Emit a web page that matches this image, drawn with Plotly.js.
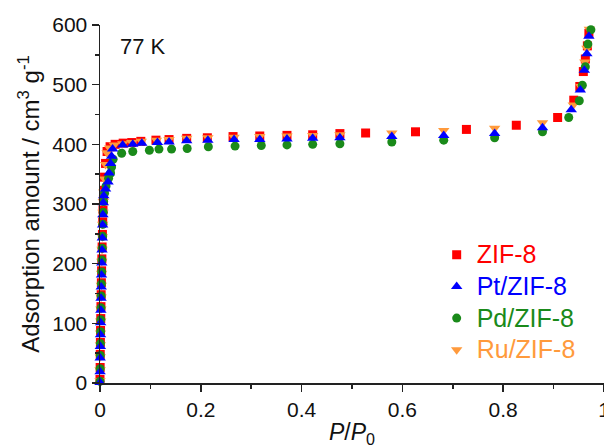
<!DOCTYPE html>
<html>
<head>
<meta charset="utf-8">
<script src="https://cdn.plot.ly/plotly-3.0.1.min.js"></script>
<style>html,body{margin:0;padding:0;background:#fff;}#chart{width:604px;height:448px;}</style>
</head>
<body>
<div id="chart"></div>
<script>
// ZIF-8 (red squares)
const zifX = [0, 0.0003, 0.0005, 0.0008, 0.0011, 0.0015, 0.0019, 0.0023, 0.0027, 0.0032, 0.0037, 0.0042, 0.0048, 0.0054, 0.006, 0.0068, 0.0076, 0.009, 0.011, 0.014, 0.02, 0.03, 0.046, 0.063, 0.081, 0.111, 0.137, 0.172, 0.213, 0.264, 0.317, 0.371, 0.422, 0.476, 0.527, 0.626, 0.727, 0.826, 0.908, 0.940, 0.952, 0.959, 0.963, 0.967, 0.970];
const zifY = [6, 26, 48, 68, 88, 108, 128, 148, 168, 188, 208, 228, 249, 270, 290, 307, 323, 345, 368, 388, 396, 400, 402, 403, 405, 407, 408, 410, 411, 413, 414, 415, 416, 418, 419, 421, 425, 432, 445, 474, 497, 522, 543, 565, 586];
// Pt/ZIF-8 (blue triangles)
const ptX = [0, 0.0002, 0.0004, 0.0007, 0.001, 0.0013, 0.0017, 0.0021, 0.0025, 0.003, 0.0035, 0.004, 0.0046, 0.0052, 0.0058, 0.0065, 0.0075, 0.011, 0.016, 0.018, 0.021, 0.023, 0.025, 0.045, 0.065, 0.083, 0.114, 0.137, 0.172, 0.214, 0.266, 0.317, 0.371, 0.422, 0.476, 0.579, 0.682, 0.783, 0.878, 0.935, 0.953, 0.961, 0.966, 0.970];
const ptY = [1, 19, 42, 61, 81, 101, 122, 142, 161, 181, 201, 223, 243, 265, 282, 302, 314, 325, 337, 352, 368, 380, 392, 399, 400, 402, 403, 404, 406, 407, 408, 408, 409, 410, 411, 413, 415, 418, 428, 458, 491, 524, 552, 581];
// Pd/ZIF-8 (green circles)
const pdX = [0, 0.0003, 0.0006, 0.0009, 0.0012, 0.0016, 0.002, 0.0024, 0.0029, 0.0034, 0.0039, 0.0045, 0.0051, 0.0057, 0.0064, 0.0072, 0.009, 0.012, 0.017, 0.021, 0.023, 0.026, 0.043, 0.065, 0.098, 0.117, 0.142, 0.173, 0.215, 0.268, 0.320, 0.371, 0.422, 0.476, 0.579, 0.682, 0.783, 0.878, 0.930, 0.951, 0.957, 0.963, 0.968, 0.974];
const pdY = [3, 24, 46, 66, 86, 106, 126, 146, 166, 186, 206, 226, 246, 266, 286, 304, 318, 330, 343, 352, 362, 375, 385, 388, 390, 392, 392, 393, 396, 397, 398, 399, 400, 401, 404, 407, 411, 421, 445, 473, 499, 530, 568, 592];
// Ru/ZIF-8 (orange down-triangles)
const ruX = [0, 0.0002, 0.0005, 0.0008, 0.0011, 0.0014, 0.0018, 0.0022, 0.0026, 0.0031, 0.0036, 0.0041, 0.0047, 0.0053, 0.0059, 0.0066, 0.0075, 0.009, 0.011, 0.014, 0.019, 0.028, 0.045, 0.063, 0.082, 0.112, 0.137, 0.172, 0.214, 0.266, 0.317, 0.371, 0.422, 0.476, 0.579, 0.682, 0.783, 0.878, 0.939, 0.954, 0.962, 0.966, 0.971];
const ruY = [4, 22, 44, 64, 84, 104, 124, 144, 164, 184, 204, 224, 245, 266, 286, 304, 320, 342, 366, 386, 394, 399, 401, 403, 405, 407, 408, 410, 411, 412, 413, 414, 415, 416, 419, 423, 427, 436, 466, 497, 538, 561, 593];

const seriesNames = ['ZIF-8', 'Pt/ZIF-8', 'Pd/ZIF-8', 'Ru/ZIF-8'];
const colors = {zif: '#ff0000', pt: '#0000ff', pd: '#1a8a1a', ru: '#ff9a3c'};
const xTickVals = [0, 0.2, 0.4, 0.6, 0.8, 1];
const xTickText = ['0', '0.2', '0.4', '0.6', '0.8', '1'];
const yTickVals = [0, 100, 200, 300, 400, 500, 600];

function lab(name, c) { return '<span style="color:' + c + ';font-size:25px">' + name + '</span>'; }

const traces = [
  {x: zifX, y: zifY, name: lab(seriesNames[0], colors.zif), legendrank: 1, type: 'scatter', mode: 'markers', cliponaxis: false,
   marker: {symbol: 'square', size: 9, color: colors.zif}},
  {x: ruX, y: ruY, name: lab(seriesNames[3], colors.ru), legendrank: 4, type: 'scatter', mode: 'markers', cliponaxis: false,
   marker: {symbol: 'triangle-down', size: 10, color: colors.ru}},
  {x: pdX, y: pdY, name: lab(seriesNames[2], colors.pd), legendrank: 3, type: 'scatter', mode: 'markers', cliponaxis: false,
   marker: {symbol: 'circle', size: 9, color: colors.pd}},
  {x: ptX, y: ptY, name: lab(seriesNames[1], colors.pt), legendrank: 2, type: 'scatter', mode: 'markers', cliponaxis: false,
   marker: {symbol: 'triangle-up', size: 10, color: colors.pt}}
];

const axisCol = '#222';
const layout = {
  width: 604, height: 448,
  margin: {l: 100, r: 0, t: 25, b: 65},
  paper_bgcolor: '#fff', plot_bgcolor: '#fff',
  font: {family: 'Liberation Sans, Arial, sans-serif', color: '#111', size: 21},
  showlegend: true,
  legend: {x: 0.668, y: 0.416, xanchor: 'left', yanchor: 'top', bgcolor: 'rgba(0,0,0,0)',
           font: {size: 22}, tracegroupgap: 0, itemwidth: 30},
  xaxis: {range: [0, 1], showgrid: false, zeroline: false, showline: true, linecolor: axisCol, linewidth: 1.5,
          ticks: 'outside', ticklen: 7, tickwidth: 1.5, tickcolor: axisCol,
          tickvals: xTickVals, ticktext: xTickText, tickfont: {size: 21}, ticklabeloverflow: 'allow',
          minor: {dtick: 0.1, ticks: 'outside', ticklen: 4, tickwidth: 1.5, tickcolor: axisCol, showgrid: false},
          title: {text: '<i>P</i>/<i>P</i><sub>0</sub>', font: {size: 23}, standoff: 7}},
  yaxis: {range: [0, 600], showgrid: false, zeroline: false, showline: true, linecolor: axisCol, linewidth: 1.5,
          ticks: 'outside', ticklen: 7, tickwidth: 1.5, tickcolor: axisCol,
          tickvals: yTickVals, tickfont: {size: 21},
          minor: {dtick: 50, ticks: 'outside', ticklen: 4, tickwidth: 1.5, tickcolor: axisCol, showgrid: false},
          title: {text: 'Adsorption amount / cm<sup>3</sup> g<sup>-1</sup>', font: {size: 24}, standoff: 6}},
  annotations: [{xref: 'paper', yref: 'paper', x: 0.036, y: 0.94, xanchor: 'left', yanchor: 'middle',
                 text: '77 K', showarrow: false, font: {size: 22, color: '#111'}}]
};

Plotly.newPlot('chart', traces, layout, {displayModeBar: false, staticPlot: true});
</script>
</body>
</html>
